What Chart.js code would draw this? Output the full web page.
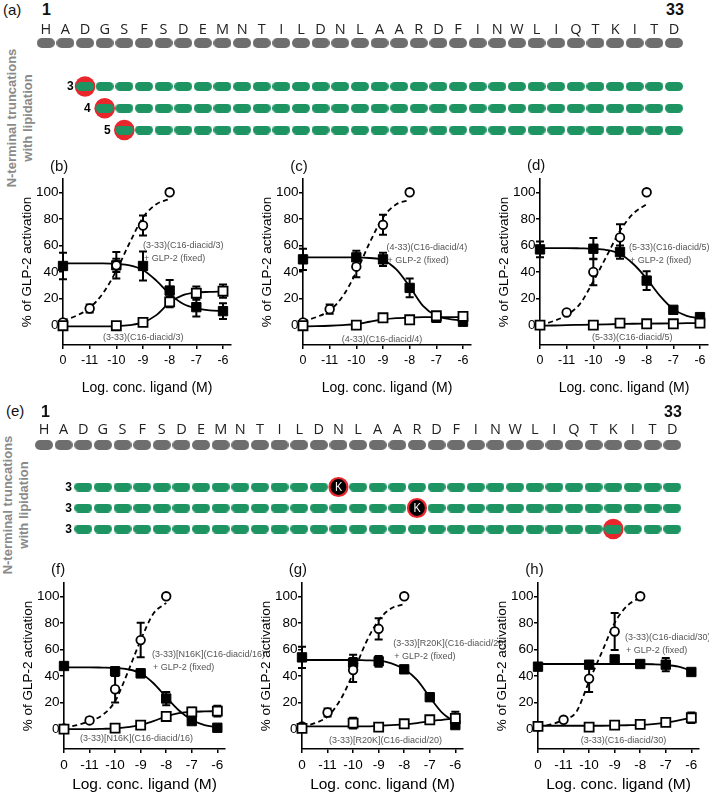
<!DOCTYPE html>
<html>
<head>
<meta charset="utf-8">
<script src="https://cdn.jsdelivr.net/npm/chart.js@4.4.1/dist/chart.umd.min.js"></script>
<style>
  body { margin: 0; background: #fff; font-family: Arial, "Liberation Sans", sans-serif; }
  #page { position: relative; width: 709px; height: 792px; overflow: hidden; background: #fff; }
  #page canvas { position: absolute; }
  .t { position: absolute; white-space: nowrap; line-height: 1; transform: translateY(-50%); }
  .note { font-size: 9px; color: #555; }
  .tag { font-size: 15px; color: #111; }
  .num { font-size: 16px; font-weight: bold; color: #111; }
  .side { position: absolute; font-size: 13px; font-weight: bold; color: #8a8a8a; text-align: center;
          line-height: 16px; white-space: nowrap; transform: translate(-50%, -50%) rotate(-90deg); }
</style>
</head>
<body>
<div id="page"></div>
<script>
// ---- data ----
const sequence = "HADGSFSDEMNTILDNLAARDFINWLIQTKITD".split("");
const truncStarts = [3, 4, 5];
const truncLipid = [3, 4, 5];
const mutStarts = [3, 3, 3];
const mutLipid = [16, 20, 30];
const mutIsK = [true, true, false];

const xLabels = ["0", "-11", "-10", "-9", "-8", "-7", "-6"];
const yTicks = [0, 20, 40, 60, 80, 100];
const fitX = [0, 0.5, 1, 1.5, 2, 2.5, 3, 3.5, 4, 4.5, 5, 5.5, 6];

const panelTags = ["(b)", "(c)", "(d)", "(f)", "(g)", "(h)"];
const ligandNames = ["(3-33)(C16-diacid/3)", "(4-33)(C16-diacid/4)", "(5-33)(C16-diacid/5)",
  "(3-33)[N16K](C16-diacid/16)", "(3-33)[R20K](C16-diacid/20)", "(3-33)(C16-diacid/30)"];

// (b)
const bGlp2 = [2, 12.5, 45, 75, 100];
const bGlp2Err = [0, 3, 5, 7.5, 0];
const bGlp2Fit = [3.5, 7, 13, 24, 41, 62, 81, 91, 95];
const bCombo = [44.5, null, 45, 44.5, 26, 13.5, 10.5];
const bComboErr = [10, 0, 10, 11, 8, 7, 6];
const bComboFit = [46.5, 46.5, 46.5, 46.4, 46, 45, 41.5, 33.5, 23.5, 16, 12.5, 11, 10.5];
const bAlone = [-0.5, null, -0.5, 2, 17.5, 24, 25.5];
const bAloneErr = [0, 0, 0, 0, 4, 5, 5];
const bAloneFit = [-1, -1, -1, -1, -0.8, 0, 2, 7.5, 17, 22.5, 24.5, 25, 25.3];

// (c)
const cGlp2 = [2, 12, 44, 75.5, 100];
const cGlp2Err = [0, 3.5, 8, 7.5, 0];
const cGlp2Fit = [3, 6, 11, 22, 40, 62, 81, 91, 94];
const cCombo = [49.5, null, 51, 49.5, 28, 5.5, 2.5];
const cComboErr = [8, 0, 5, 5, 7, 3, 2];
const cComboFit = [51, 51, 51, 51, 51, 50.5, 49, 42, 29, 14.5, 7, 4.5, 3.5];
const cAlone = [-0.5, null, 0, 5.5, 4, 7, 6.5];
const cAloneErr = [0, 0, 0, 0, 0, 0, 0];
const cAloneFit = [-1, -0.8, -0.5, 0, 0.8, 2.5, 4.2, 5.2, 5.7, 6, 6, 6, 6];

// (d)
const dGlp2 = [0, 9.5, 40, 66, 100];
const dGlp2Err = [0, 0, 10, 10, 0];
const dGlp2Fit = [0, 3, 7.5, 16, 33, 52, 71, 84, 91];
const dCombo = [57, null, 57.5, 55, 33.5, 11.5, 6];
const dComboErr = [6, 0, 8, 5, 7, 2, 2];
const dComboFit = [58, 58, 58, 57.8, 57.5, 56.5, 53.5, 46, 35, 22, 12, 7, 5];
const dAlone = [0, null, 0, 1.5, 1, 1, 1.5];
const dAloneErr = [0, 0, 0, 0, 0, 0, 0];
const dAloneFit = [-0.5, -0.3, 0, 0.2, 0.4, 0.6, 0.8, 1, 1.1, 1.2, 1.3, 1.4, 1.5];

// (f)
const fGlp2 = [0.5, 6.5, 30, 67, 100];
const fGlp2Err = [0, 2, 10, 13, 0];
const fGlp2Fit = [0.8, 3, 6, 10.5, 21, 43, 67, 87, 95];
const fCombo = [47.5, null, 43.5, 42, 23, 6, 1];
const fComboErr = [2, 0, 3, 3, 5, 2, 0];
const fComboFit = [46.5, 46.5, 46.5, 46.3, 46, 45, 42, 34.5, 24, 14, 7, 3, 1.5];
const fAlone = [0, null, 0.7, 3, 9.5, 13, 13.5];
const fAloneErr = [0, 0, 0, 0, 0, 3, 4];
const fAloneFit = [0, 0, 0, 0.2, 0.5, 1.5, 3, 6, 9.5, 12, 13, 13.3, 13.5];

// (g)
const gGlp2 = [2, 12.5, 44.5, 75.5, 100];
const gGlp2Err = [0, 3, 9, 8, 0];
const gGlp2Fit = [2, 4.5, 9.5, 22, 42, 65, 82, 91, 94];
const gCombo = [54, null, 50, 51, 45, 24, 3];
const gComboErr = [8, 0, 6, 4, 0, 0, 0];
const gComboFit = [52, 52, 52, 52, 52, 51.8, 51.5, 49.5, 45, 37, 24, 12, 5];
const gAlone = [0.5, null, 4.5, 1.5, 4, 7, 8];
const gAloneErr = [0, 0, 4, 0, 0, 2, 5];
const gAloneFit = [2, 2, 2, 2, 2, 2, 2.5, 3, 3.5, 4.5, 6, 7, 8];

// (h)
const hGlp2 = [2, 7, 38, 73.5, 100];
const hGlp2Err = [0, 0, 10, 14, 0];
const hGlp2Fit = [2, 3.5, 7, 13, 36, 58, 80, 93, 99];
const hCombo = [47, null, 48.5, 52.5, 49, 48.5, 43];
const hComboErr = [0, 0, 0, 0, 0, 5, 0];
const hComboFit = [49, 49, 49, 49, 49, 49, 49, 49, 49, 48.8, 48.3, 47, 44];
const hAlone = [2, null, 1.5, 3, 3.5, 5, 8.5];
const hAloneErr = [0, 0, 2, 0, 0, 2, 4];
const hAloneFit = [2.5, 2.5, 2.5, 2.5, 2.5, 2.5, 2.7, 2.9, 3.2, 3.8, 4.8, 6.5, 8.5];

// ---- layout ----
const page = document.getElementById("page");
Chart.defaults.font.family = 'Arial, "Liberation Sans", sans-serif';
Chart.defaults.color = "#000";

function addText(text, x, y, cls) {
  const d = document.createElement("div");
  d.className = "t " + cls;
  d.textContent = text;
  d.style.left = x + "px";
  d.style.top = y + "px";
  page.appendChild(d);
  return d;
}

function sideLabel(x, y) {
  const d = document.createElement("div");
  d.className = "side";
  d.innerHTML = "N-terminal truncations<br>with lipidation";
  d.style.left = x + "px";
  d.style.top = y + "px";
  page.appendChild(d);
}

// error bars drawn under each dataset's own markers
const errorBars = {
  id: "errorBars",
  beforeDatasetDraw(chart, args) {
    const ds = chart.data.datasets[args.index];
    if (!ds.withErrors) return;
    const ctx = chart.ctx, y = chart.scales.y;
    ctx.save();
    ctx.strokeStyle = "#000";
    ctx.lineWidth = 2;
    args.meta.data.forEach((el, i) => {
      const p = ds.data[i];
      if (!p.e) return;
      const t = y.getPixelForValue(p.y + p.e), b = y.getPixelForValue(p.y - p.e);
      ctx.beginPath();
      ctx.moveTo(el.x, t); ctx.lineTo(el.x, b);
      ctx.moveTo(el.x - 4, t); ctx.lineTo(el.x + 4, t);
      ctx.moveTo(el.x - 4, b); ctx.lineTo(el.x + 4, b);
      ctx.stroke();
    });
    ctx.restore();
  }
};

// text written on top of points (K marks, row numbers)
const pointText = {
  id: "pointText",
  afterDatasetsDraw(chart) {
    const ctx = chart.ctx;
    chart.data.datasets.forEach((ds, di) => {
      if (!ds.texts) return;
      ctx.save();
      ctx.font = ds.textFont;
      ctx.fillStyle = ds.textColor;
      ctx.textAlign = "center";
      ctx.textBaseline = "middle";
      chart.getDatasetMeta(di).data.forEach((el, i) => ctx.fillText(ds.texts[i], el.x, el.y + 0.5));
      ctx.restore();
    });
  }
};

function pill(w, h, color) {
  const c = document.createElement("canvas");
  c.width = w; c.height = h;
  const g = c.getContext("2d");
  const r = h / 2;
  g.fillStyle = color;
  g.beginPath();
  g.arc(r, r, r, Math.PI / 2, Math.PI * 1.5);
  g.arc(w - r, r, r, -Math.PI / 2, Math.PI / 2);
  g.closePath();
  g.fill();
  return c;
}
const grayPill = pill(18, 10, "#6e6e6e");
const greenPill = pill(18, 9, "#1e9463");

function sequencePanel(cfg) {
  const rows = ["seq", "gap", "r1", "r2", "r3"];
  const padTop = 2, axisH = 30, padBottom = 14;
  const cv = document.createElement("canvas");
  cv.width = 709;
  cv.height = Math.round(padTop + axisH + cfg.rowStep * 4 + padBottom);
  cv.style.left = "0px";
  cv.style.top = (cfg.seqY - padTop - axisH) + "px";
  page.appendChild(cv);

  const datasets = [{
    data: sequence.map((s, k) => ({ x: k + 1, y: "seq" })),
    pointStyle: grayPill, order: 2
  }];
  cfg.starts.forEach((s, r) => {
    const pts = [];
    for (let k = s; k <= sequence.length; k++) pts.push({ x: k, y: rows[r + 2] });
    datasets.push({ data: pts, pointStyle: greenPill, order: 2 });
  });
  const plain = [], kMarks = [];
  cfg.lipid.forEach((p, r) => (cfg.isK[r] ? kMarks : plain).push({ x: p, y: rows[r + 2] }));
  datasets.push({ data: plain, pointStyle: "circle", pointRadius: 10.3, backgroundColor: "#e8262c", borderWidth: 0, order: 3 });
  if (kMarks.length) datasets.push({
    data: kMarks, pointStyle: "circle", pointRadius: 9, backgroundColor: "#000", borderColor: "#e8262c",
    borderWidth: 2.2, order: 0, texts: kMarks.map(() => "K"), textFont: '12px "Open Sans"', textColor: "#fff"
  });
  datasets.push({
    data: cfg.starts.map((s, r) => ({ x: s - cfg.numOffset[r], y: rows[r + 2] })), pointRadius: 0, order: 0,
    texts: cfg.starts.map(s => String(s)), textFont: 'bold 12px Arial, "Liberation Sans"', textColor: "#000"
  });
  datasets.forEach(d => { d.clip = false; });

  return new Chart(cv, {
    type: "scatter",
    data: { datasets },
    plugins: [pointText],
    options: {
      responsive: false, animation: false, devicePixelRatio: 1, events: [],
      layout: { autoPadding: false, padding: { top: padTop, bottom: padBottom, left: 0, right: 0 } },
      plugins: { legend: { display: false }, tooltip: { enabled: false } },
      scales: {
        x: {
          type: "linear", position: "top", min: cfg.xMin, max: cfg.xMax,
          afterBuildTicks: s => { s.ticks = sequence.map((_, k) => ({ value: k + 1 })); },
          afterFit: s => { s.height = axisH; s.paddingLeft = 0; s.paddingRight = 0; },
          ticks: { callback: v => sequence[v - 1], font: { family: '"Open Sans"', size: 14.5 }, color: "#222",
                   padding: cfg.labelPad, maxRotation: 0, autoSkip: false },
          grid: { display: false, drawTicks: false },
          border: { display: false }
        },
        y: { type: "category", labels: rows, offset: false, display: false }
      }
    }
  });
}

function points(vals, errs) {
  const out = [];
  vals.forEach((v, k) => { if (v !== null) out.push({ x: k, y: v, e: errs[k] }); });
  return out;
}
function fitPoints(vals) {
  return vals.map((v, k) => ({ x: fitX[k], y: v }));
}

const xMax = 6.3, plotH = 166;
const axisStyle = {
  grid: { display: true, drawOnChartArea: false, drawTicks: true, tickLength: 4, color: "#000", lineWidth: 1.5 },
  border: { display: true, color: "#000", width: 1.6 }
};

function dosePanel(p) {
  const padTop = 12, padRight = 12;
  const plotW = p.unit * xMax;
  const cv = document.createElement("canvas");
  cv.width = Math.round(63 + plotW + padRight);
  cv.height = Math.round(padTop + plotH + p.axisH);
  cv.style.left = (p.axisX - 63) + "px";
  cv.style.top = (p.areaTop - padTop) + "px";
  page.appendChild(cv);

  const line = { showLine: true, pointRadius: 0, borderColor: "#000", borderWidth: 1.8,
                 cubicInterpolationMode: "monotone", order: 6, clip: false };
  return new Chart(cv, {
    type: "scatter",
    data: {
      datasets: [
        Object.assign({ data: fitPoints(p.comboFit) }, line),
        Object.assign({ data: fitPoints(p.aloneFit) }, line),
        Object.assign({ data: fitPoints(p.glp2Fit), borderDash: [5, 3.5] }, line),
        { data: points(p.combo, p.comboErr), withErrors: true, pointStyle: "rect", pointRadius: 6.6,
          backgroundColor: "#000", borderColor: "#000", borderWidth: 1, order: 3, clip: false },
        { data: points(p.glp2, p.glp2Err), withErrors: true, pointStyle: "circle", pointRadius: 4.3,
          backgroundColor: "#fff", borderColor: "#000", borderWidth: 1.8, order: 2, clip: false },
        { data: points(p.alone, p.aloneErr), withErrors: true, pointStyle: "rect", pointRadius: 6.4,
          backgroundColor: "#fff", borderColor: "#000", borderWidth: 1.8, order: 1, clip: false }
      ]
    },
    plugins: [errorBars],
    options: {
      responsive: false, animation: false, devicePixelRatio: 1, events: [],
      layout: { autoPadding: false, padding: { top: padTop, right: padRight, left: 0, bottom: 0 } },
      plugins: { legend: { display: false }, tooltip: { enabled: false } },
      scales: {
        x: Object.assign({
          type: "linear", min: 0, max: xMax,
          afterBuildTicks: s => { s.ticks = xLabels.map((_, k) => ({ value: k })); },
          afterFit: s => { s.height = p.axisH; },
          ticks: { callback: v => xLabels[v], font: { size: p.xTickSize }, color: "#000", padding: 4.5,
                   maxRotation: 0, autoSkip: false },
          title: { display: true, text: "Log. conc. ligand (M)", font: { size: p.xTitleSize }, color: "#000",
                   padding: { top: 0, bottom: 1 } }
        }, axisStyle),
        y: Object.assign({
          type: "linear", min: -15, max: 110,
          afterBuildTicks: s => { s.ticks = yTicks.map(v => ({ value: v })); },
          afterFit: s => { s.width = 63; },
          ticks: { font: { size: 13.5 }, color: "#000", padding: 0.5 },
          title: { display: true, text: "% of GLP-2 activation", font: { size: 13.5 }, color: "#000",
                   padding: { top: 19, bottom: 0 } }
        }, axisStyle)
      }
    }
  });
}

function annotate(p) {
  addText(p.tag, p.axisX - 13, p.areaTop - p.tagUp, "tag");
  addText(p.name, p.axisX + p.combo1[0], p.areaTop + p.combo1[1], "note");
  addText("+ GLP-2 (fixed)", p.axisX + p.combo1[0] + 1, p.areaTop + p.combo1[1] + 12.8, "note");
  addText(p.name, p.axisX + p.aloneAt[0], p.areaTop + p.aloneAt[1], "note");
}

function panel(p) {
  dosePanel(p);
  annotate(p);
}

// ---- panel (a) ----
addText("(a)", 3, 9, "tag");
addText("1", 42, 10, "num");
addText("33", 666, 10, "num");
sideLabel(20, 118);
sequencePanel({ seqY: 43.3, rowStep: 21.67, xMin: -1.333, xMax: 34.785, labelPad: 4.6,
                numOffset: [0.75, 0.88, 0.87], starts: truncStarts, lipid: truncLipid, isK: [false, false, false] });

// ---- panels (b)-(d) ----
const upperRow = { areaTop: 179, unit: 26.6, axisH: 53, xTickSize: 12.5, xTitleSize: 14 };
panel(Object.assign({ tag: panelTags[0], name: ligandNames[0], axisX: 63, tagUp: 14,
  combo1: [80, 66], aloneAt: [40, 158],
  glp2: bGlp2, glp2Err: bGlp2Err, glp2Fit: bGlp2Fit, combo: bCombo, comboErr: bComboErr, comboFit: bComboFit,
  alone: bAlone, aloneErr: bAloneErr, aloneFit: bAloneFit }, upperRow));
panel(Object.assign({ tag: panelTags[1], name: ligandNames[1], axisX: 303.3, tagUp: 14,
  combo1: [83.3, 68.3], aloneAt: [38.4, 160],
  glp2: cGlp2, glp2Err: cGlp2Err, glp2Fit: cGlp2Fit, combo: cCombo, comboErr: cComboErr, comboFit: cComboFit,
  alone: cAlone, aloneErr: cAloneErr, aloneFit: cAloneFit }, upperRow));
panel(Object.assign({ tag: panelTags[2], name: ligandNames[2], axisX: 540, tagUp: 15,
  combo1: [89, 68], aloneAt: [52, 158],
  glp2: dGlp2, glp2Err: dGlp2Err, glp2Fit: dGlp2Fit, combo: dCombo, comboErr: dComboErr, comboFit: dComboFit,
  alone: dAlone, aloneErr: dAloneErr, aloneFit: dAloneFit }, upperRow));

// ---- panel (e) ----
addText("(e)", 6, 410, "tag");
addText("1", 41, 411.5, "num");
addText("33", 664, 412, "num");
sideLabel(16, 505);
sequencePanel({ seqY: 445, rowStep: 21, xMin: -1.2415, xMax: 34.877, labelPad: 6.3,
                numOffset: [0.75, 0.75, 0.75], starts: mutStarts, lipid: mutLipid, isK: mutIsK });

// ---- panels (f)-(h) ----
const lowerRow = { areaTop: 583.3, unit: 25.5, axisH: 46, tagUp: 15.3, xTickSize: 13.5, xTitleSize: 15.5 };
panel(Object.assign({ tag: panelTags[3], name: ligandNames[3], axisX: 64,
  combo1: [88, 71], aloneAt: [16, 155],
  glp2: fGlp2, glp2Err: fGlp2Err, glp2Fit: fGlp2Fit, combo: fCombo, comboErr: fComboErr, comboFit: fComboFit,
  alone: fAlone, aloneErr: fAloneErr, aloneFit: fAloneFit }, lowerRow));
panel(Object.assign({ tag: panelTags[4], name: ligandNames[4], axisX: 301.7,
  combo1: [91.6, 60], aloneAt: [27.3, 156.7],
  glp2: gGlp2, glp2Err: gGlp2Err, glp2Fit: gGlp2Fit, combo: gCombo, comboErr: gComboErr, comboFit: gComboFit,
  alone: gAlone, aloneErr: gAloneErr, aloneFit: gAloneFit }, lowerRow));
panel(Object.assign({ tag: panelTags[5], name: ligandNames[5], axisX: 538.3,
  combo1: [86.7, 53.4], aloneAt: [42.4, 156.7],
  glp2: hGlp2, glp2Err: hGlp2Err, glp2Fit: hGlp2Fit, combo: hCombo, comboErr: hComboErr, comboFit: hComboFit,
  alone: hAlone, aloneErr: hAloneErr, aloneFit: hAloneFit }, lowerRow));
</script>
</body>
</html>
